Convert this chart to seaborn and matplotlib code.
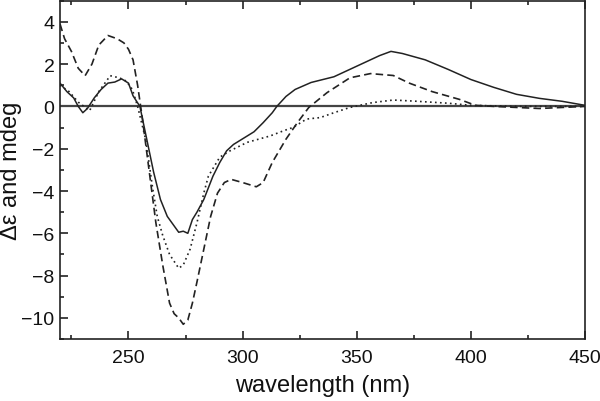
import numpy as np
import pandas as pd
import matplotlib
matplotlib.use('Agg')
import matplotlib.pyplot as plt
import seaborn as sns
from matplotlib.ticker import MultipleLocator

# --- データ ---
solid_x = [220, 223, 226, 228, 230, 232, 235, 238, 241, 244, 247, 250, 252, 255, 258,
           261, 264, 267, 270, 272, 274, 276, 278, 280, 283, 287, 290, 293, 296, 299,
           302, 305, 309, 313, 315, 319, 323, 330, 340, 350, 360, 365, 370, 380, 390,
           400, 410, 420, 430, 440, 450]
solid_y = [1.1, 0.7, 0.4, 0.0, -0.3, -0.1, 0.4, 0.8, 1.1, 1.15, 1.3, 1.1, 0.5, 0.0, -1.55,
           -3.1, -4.4, -5.2, -5.65, -5.95, -5.9, -6.0, -5.35, -5.0, -4.4, -3.3, -2.65, -2.1, -1.8, -1.6,
           -1.4, -1.2, -0.77, -0.3, 0.0, 0.47, 0.8, 1.13, 1.4, 1.9, 2.4, 2.6, 2.5, 2.2, 1.75,
           1.27, 0.9, 0.57, 0.38, 0.24, 0.05]

dash_x = [220, 222, 225, 228, 231, 234, 237, 241, 245, 248, 250, 252, 254, 256, 259,
          262, 265, 268, 270, 272, 274, 276, 278, 280, 283, 286, 289, 292, 295, 300,
          306, 309, 313, 319, 324, 329, 337, 347, 356, 366, 373, 383, 395, 402, 410,
          420, 430, 440, 450]
dash_y = [3.9, 3.2, 2.6, 1.8, 1.45, 2.0, 2.9, 3.35, 3.2, 3.0, 2.7, 2.2, 1.0, -0.5, -3.0,
          -5.5, -7.5, -9.3, -9.8, -10.0, -10.3, -10.1, -9.3, -8.3, -6.75, -5.2, -4.1, -3.6, -3.45, -3.6,
          -3.8, -3.6, -2.65, -1.55, -0.77, -0.05, 0.65, 1.35, 1.55, 1.46, 1.1, 0.7, 0.33, 0.05, 0.0,
          -0.05, -0.1, -0.05, 0.0]

dot_x = [220, 224, 228, 233, 237, 242, 246, 249, 251.7, 254, 257.5, 260.5, 262.6, 265,
         268, 272, 274, 277, 280, 283, 285, 290, 294.5, 302, 312, 318, 322, 328, 334,
         340, 347, 357, 366, 375, 390, 400, 420, 450]
dot_y = [1.0, 0.7, 0.2, -0.2, 0.7, 1.45, 1.35, 1.2, 0.8, 0.0, -1.55, -3.8, -5.2, -6.1,
         -7.0, -7.65, -7.5, -6.75, -5.5, -4.1, -3.3, -2.4, -2.1, -1.7, -1.4, -1.15, -1.0, -0.6, -0.53,
         -0.3, -0.05, 0.18, 0.3, 0.25, 0.15, 0.05, 0.0, 0.0]

# --- 描画 ---
sns.set_style('ticks')
plt.rcParams['font.family'] = ['Liberation Sans', 'DejaVu Sans']

fig = plt.figure(figsize=(6, 4.02), dpi=100)
ax = fig.add_axes([0.1, 0.154, 0.875, 0.842])

col = '#222222'
ax.axhline(0, color='#444444', lw=1.6, zorder=1)
sns.lineplot(x=solid_x, y=solid_y, ax=ax, color=col, lw=1.1)
sns.lineplot(x=dash_x, y=dash_y, ax=ax, color=col, lw=1.2, linestyle=(0, (4.5, 2.5)))
sns.lineplot(x=dot_x, y=dot_y, ax=ax, color=col, lw=1.2, linestyle=(0, (1, 2)))

ax.set_xlim(220, 450)
ax.set_ylim(-11, 5)
ax.xaxis.set_major_locator(MultipleLocator(50))
ax.xaxis.set_minor_locator(MultipleLocator(25))
ax.yaxis.set_major_locator(MultipleLocator(2))
ax.yaxis.set_minor_locator(MultipleLocator(1))
ax.tick_params(which='both', direction='in', top=True, right=False, width=1.2, colors=col,
               labelsize=14, labelcolor='#111111')
ax.tick_params(which='major', length=6)
ax.tick_params(which='minor', length=3)
ax.tick_params(axis='y', pad=4)
ax.tick_params(axis='x', pad=7)
for s in ax.spines.values():
    s.set_linewidth(1.2)
    s.set_color(col)

ax.set_xlabel('wavelength (nm)', fontsize=17, color='#111111', labelpad=6)
ax.set_ylabel('Δε and mdeg', fontsize=17, color='#111111')
ax.yaxis.set_label_coords(-0.072, 0.5)

fig.savefig('out.png', dpi=100)
